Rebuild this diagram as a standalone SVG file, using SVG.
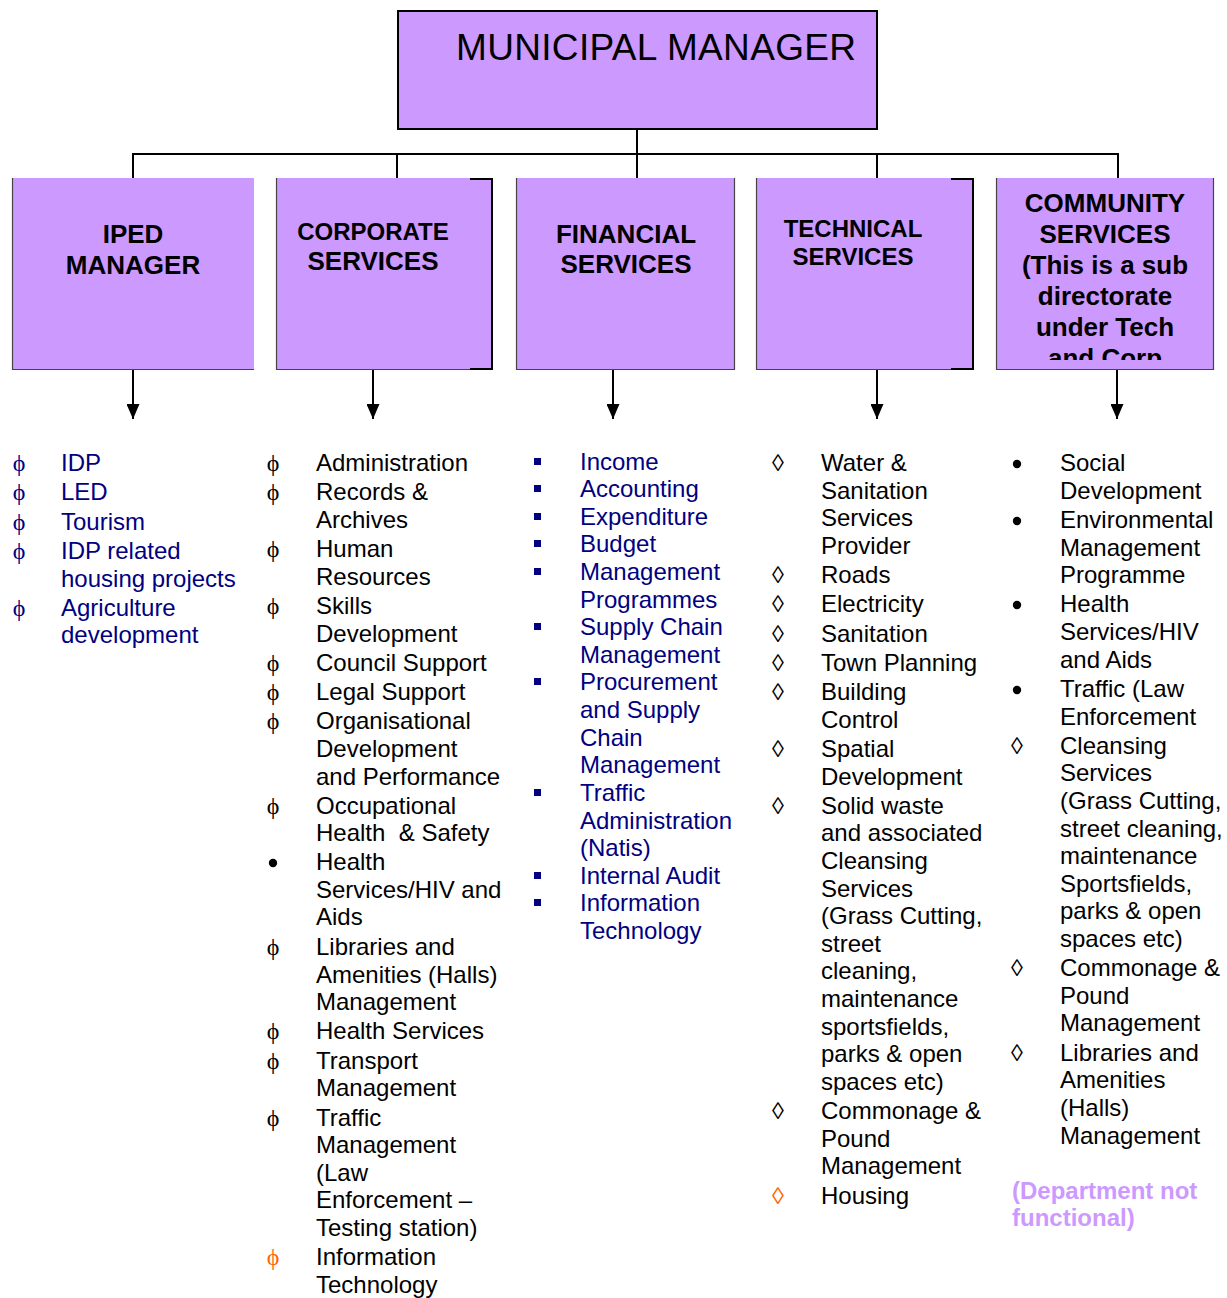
<svg xmlns="http://www.w3.org/2000/svg" width="1227" height="1298" viewBox="0 0 1227 1298">
<style>
.box{fill:#CC99FF}
.edge{fill:none;stroke:#444;stroke-width:1.2}
.brk{fill:none;stroke:#000;stroke-width:2}
.conn{fill:none;stroke:#000;stroke-width:2}
.h{font-family:"Liberation Sans",Arial,sans-serif;font-weight:bold;font-size:26px;fill:#000;text-anchor:middle}
.t{font-family:"Liberation Sans",Arial,sans-serif;font-size:24px}
.navy{fill:#000080}
.blk{fill:#000}
.org{fill:#FF6600}
.phi{font-family:"Liberation Serif","DejaVu Serif",serif;font-size:24px;text-anchor:middle}
.bul{font-family:"Liberation Sans",Arial,sans-serif;font-size:24px;text-anchor:middle}
.dept{font-family:"Liberation Sans",Arial,sans-serif;font-weight:bold;font-size:24px;fill:#CC99FF}
</style>
<defs>
<marker id="ah" markerWidth="15" markerHeight="13" refX="15" refY="6.5" orient="auto" markerUnits="userSpaceOnUse" viewBox="0 0 15 13">
<path d="M0,0 L15,6.5 L0,13 Z" fill="#000"/>
</marker>
<clipPath id="cc"><rect x="996" y="178" width="218" height="182"/></clipPath>
</defs>

<g id="connectors">
<path class="conn" d="M637,130 V178"/>
<path class="conn" d="M133,178 V154 H1118 V178"/>
<path class="conn" d="M397,154 V178"/>
<path class="conn" d="M877,154 V178"/>
<path class="conn" d="M133,370 V419" marker-end="url(#ah)"/>
<path class="conn" d="M373,370 V419" marker-end="url(#ah)"/>
<path class="conn" d="M613,370 V419" marker-end="url(#ah)"/>
<path class="conn" d="M877,370 V419" marker-end="url(#ah)"/>
<path class="conn" d="M1117,370 V419" marker-end="url(#ah)"/>
</g>

<g id="municipal-manager">
<rect x="398" y="11" width="479" height="118" fill="#CC99FF" stroke="#000" stroke-width="2"/>
<text x="456" y="60" textLength="400" style="font-family:'Liberation Sans',Arial,sans-serif;font-size:37px;fill:#000">MUNICIPAL MANAGER</text>
</g>

<g id="iped-manager">
<rect class="box" x="12" y="178" width="242" height="192"/>
<path class="edge" d="M12.5,178 V369.5 H254"/>
<text class="h" x="133" y="243">IPED</text>
<text class="h" x="133" y="274">MANAGER</text>
</g>

<g id="corporate-services">
<rect class="box" x="276" y="178" width="217" height="192"/>
<path class="edge" d="M276.5,178 V369.5 H493"/>
<path class="brk" d="M470,179 H492 V369 H470"/>
<text class="h" x="373" y="240" style="font-size:24px">CORPORATE</text>
<text class="h" x="373" y="270">SERVICES</text>
</g>

<g id="financial-services">
<rect class="box" x="516" y="178" width="219" height="192"/>
<path class="edge" d="M516.5,178 V369.5 H734.5 V178"/>
<text class="h" x="626" y="243">FINANCIAL</text>
<text class="h" x="626" y="273">SERVICES</text>
</g>

<g id="technical-services">
<rect class="box" x="756" y="178" width="218" height="192"/>
<path class="edge" d="M756.5,178 V369.5 H974"/>
<path class="brk" d="M951,179 H973 V369 H951"/>
<text class="h" x="853" y="237" style="font-size:24px">TECHNICAL</text>
<text class="h" x="853" y="265" style="font-size:24px">SERVICES</text>
</g>

<g id="community-services">
<rect class="box" x="996" y="178" width="218" height="192"/>
<path class="edge" d="M996.5,178 V369.5 H1213.5 V178"/>
<g clip-path="url(#cc)">
<text class="h" x="1105" y="212">COMMUNITY</text>
<text class="h" x="1105" y="243">SERVICES</text>
<text class="h" x="1105" y="274">(This is a sub</text>
<text class="h" x="1105" y="305">directorate</text>
<text class="h" x="1105" y="336">under Tech</text>
<text class="h" x="1105" y="367">and Corp</text>
</g>
</g>

<g id="iped-list">
<text class="phi navy" x="19" y="471">ϕ</text><text class="t navy" x="61" y="471">IDP</text>
<text class="phi navy" x="19" y="500">ϕ</text><text class="t navy" x="61" y="500">LED</text>
<text class="phi navy" x="19" y="530">ϕ</text><text class="t navy" x="61" y="530">Tourism</text>
<text class="phi navy" x="19" y="559">ϕ</text><text class="t navy" x="61" y="559">IDP related</text>
<text class="t navy" x="61" y="587">housing projects</text>
<text class="phi navy" x="19" y="616">ϕ</text><text class="t navy" x="61" y="616">Agriculture</text>
<text class="t navy" x="61" y="643">development</text>
</g>

<g id="corporate-list">
<text class="phi blk" x="273" y="471">ϕ</text><text class="t blk" x="316" y="471">Administration</text>
<text class="phi blk" x="273" y="500">ϕ</text><text class="t blk" x="316" y="500">Records &amp;</text>
<text class="t blk" x="316" y="528">Archives</text>
<text class="phi blk" x="273" y="557">ϕ</text><text class="t blk" x="316" y="557">Human</text>
<text class="t blk" x="316" y="585">Resources</text>
<text class="phi blk" x="273" y="614">ϕ</text><text class="t blk" x="316" y="614">Skills</text>
<text class="t blk" x="316" y="642">Development</text>
<text class="phi blk" x="273" y="671">ϕ</text><text class="t blk" x="316" y="671">Council Support</text>
<text class="phi blk" x="273" y="700">ϕ</text><text class="t blk" x="316" y="700">Legal Support</text>
<text class="phi blk" x="273" y="729">ϕ</text><text class="t blk" x="316" y="729">Organisational</text>
<text class="t blk" x="316" y="757">Development</text>
<text class="t blk" x="316" y="785">and Performance</text>
<text class="phi blk" x="273" y="814">ϕ</text><text class="t blk" x="316" y="814">Occupational</text>
<text class="t blk" x="316" y="841" xml:space="preserve">Health  &amp; Safety</text>
<circle cx="273" cy="863" r="4.2" fill="#000"/><text class="t blk" x="316" y="870">Health</text>
<text class="t blk" x="316" y="898">Services/HIV and</text>
<text class="t blk" x="316" y="925">Aids</text>
<text class="phi blk" x="273" y="955">ϕ</text><text class="t blk" x="316" y="955">Libraries and</text>
<text class="t blk" x="316" y="983">Amenities (Halls)</text>
<text class="t blk" x="316" y="1010">Management</text>
<text class="phi blk" x="273" y="1039">ϕ</text><text class="t blk" x="316" y="1039">Health Services</text>
<text class="phi blk" x="273" y="1069">ϕ</text><text class="t blk" x="316" y="1069">Transport</text>
<text class="t blk" x="316" y="1096">Management</text>
<text class="phi blk" x="273" y="1126">ϕ</text><text class="t blk" x="316" y="1126">Traffic</text>
<text class="t blk" x="316" y="1153">Management</text>
<text class="t blk" x="316" y="1181">(Law</text>
<text class="t blk" x="316" y="1208">Enforcement –</text>
<text class="t blk" x="316" y="1236">Testing station)</text>
<text class="phi org" x="273" y="1265">ϕ</text><text class="t blk" x="316" y="1265">Information</text>
<text class="t blk" x="316" y="1293">Technology</text>
</g>

<g id="financial-list">
<rect class="navy" x="534" y="458" width="7" height="7"/><text class="t navy" x="580" y="470">Income</text>
<rect class="navy" x="534" y="485" width="7" height="7"/><text class="t navy" x="580" y="497">Accounting</text>
<rect class="navy" x="534" y="513" width="7" height="7"/><text class="t navy" x="580" y="525">Expenditure</text>
<rect class="navy" x="534" y="540" width="7" height="7"/><text class="t navy" x="580" y="552">Budget</text>
<rect class="navy" x="534" y="568" width="7" height="7"/><text class="t navy" x="580" y="580">Management</text>
<text class="t navy" x="580" y="608">Programmes</text>
<rect class="navy" x="534" y="623" width="7" height="7"/><text class="t navy" x="580" y="635">Supply Chain</text>
<text class="t navy" x="580" y="663">Management</text>
<rect class="navy" x="534" y="678" width="7" height="7"/><text class="t navy" x="580" y="690">Procurement</text>
<text class="t navy" x="580" y="718">and Supply</text>
<text class="t navy" x="580" y="746">Chain</text>
<text class="t navy" x="580" y="773">Management</text>
<rect class="navy" x="534" y="789" width="7" height="7"/><text class="t navy" x="580" y="801">Traffic</text>
<text class="t navy" x="580" y="829">Administration</text>
<text class="t navy" x="580" y="856">(Natis)</text>
<rect class="navy" x="534" y="872" width="7" height="7"/><text class="t navy" x="580" y="884">Internal Audit</text>
<rect class="navy" x="534" y="899" width="7" height="7"/><text class="t navy" x="580" y="911">Information</text>
<text class="t navy" x="580" y="939">Technology</text>
</g>

<g id="technical-list">
<text class="bul blk" x="778" y="471">◊</text><text class="t blk" x="821" y="471">Water &amp;</text>
<text class="t blk" x="821" y="499">Sanitation</text>
<text class="t blk" x="821" y="526">Services</text>
<text class="t blk" x="821" y="554">Provider</text>
<text class="bul blk" x="778" y="583">◊</text><text class="t blk" x="821" y="583">Roads</text>
<text class="bul blk" x="778" y="612">◊</text><text class="t blk" x="821" y="612">Electricity</text>
<text class="bul blk" x="778" y="642">◊</text><text class="t blk" x="821" y="642">Sanitation</text>
<text class="bul blk" x="778" y="671">◊</text><text class="t blk" x="821" y="671">Town Planning</text>
<text class="bul blk" x="778" y="700">◊</text><text class="t blk" x="821" y="700">Building</text>
<text class="t blk" x="821" y="728">Control</text>
<text class="bul blk" x="778" y="757">◊</text><text class="t blk" x="821" y="757">Spatial</text>
<text class="t blk" x="821" y="785">Development</text>
<text class="bul blk" x="778" y="814">◊</text><text class="t blk" x="821" y="814">Solid waste</text>
<text class="t blk" x="821" y="841">and associated</text>
<text class="t blk" x="821" y="869">Cleansing</text>
<text class="t blk" x="821" y="897">Services</text>
<text class="t blk" x="821" y="924">(Grass Cutting,</text>
<text class="t blk" x="821" y="952">street</text>
<text class="t blk" x="821" y="979">cleaning,</text>
<text class="t blk" x="821" y="1007">maintenance</text>
<text class="t blk" x="821" y="1035">sportsfields,</text>
<text class="t blk" x="821" y="1062">parks &amp; open</text>
<text class="t blk" x="821" y="1090">spaces etc)</text>
<text class="bul blk" x="778" y="1119">◊</text><text class="t blk" x="821" y="1119">Commonage &amp;</text>
<text class="t blk" x="821" y="1147">Pound</text>
<text class="t blk" x="821" y="1174">Management</text>
<text class="bul org" x="778" y="1204">◊</text><text class="t blk" x="821" y="1204">Housing</text>
</g>

<g id="community-list">
<circle cx="1017" cy="464" r="4.2" fill="#000"/><text class="t blk" x="1060" y="471">Social</text>
<text class="t blk" x="1060" y="499">Development</text>
<circle cx="1017" cy="521" r="4.2" fill="#000"/><text class="t blk" x="1060" y="528">Environmental</text>
<text class="t blk" x="1060" y="556">Management</text>
<text class="t blk" x="1060" y="583">Programme</text>
<circle cx="1017" cy="605" r="4.2" fill="#000"/><text class="t blk" x="1060" y="612">Health</text>
<text class="t blk" x="1060" y="640">Services/HIV</text>
<text class="t blk" x="1060" y="668">and Aids</text>
<circle cx="1017" cy="690" r="4.2" fill="#000"/><text class="t blk" x="1060" y="697">Traffic (Law</text>
<text class="t blk" x="1060" y="725">Enforcement</text>
<text class="bul blk" x="1017" y="754">◊</text><text class="t blk" x="1060" y="754">Cleansing</text>
<text class="t blk" x="1060" y="781">Services</text>
<text class="t blk" x="1060" y="809">(Grass Cutting,</text>
<text class="t blk" x="1060" y="837">street cleaning,</text>
<text class="t blk" x="1060" y="864">maintenance</text>
<text class="t blk" x="1060" y="892">Sportsfields,</text>
<text class="t blk" x="1060" y="919">parks &amp; open</text>
<text class="t blk" x="1060" y="947">spaces etc)</text>
<text class="bul blk" x="1017" y="976">◊</text><text class="t blk" x="1060" y="976">Commonage &amp;</text>
<text class="t blk" x="1060" y="1004">Pound</text>
<text class="t blk" x="1060" y="1031">Management</text>
<text class="bul blk" x="1017" y="1061">◊</text><text class="t blk" x="1060" y="1061">Libraries and</text>
<text class="t blk" x="1060" y="1088">Amenities</text>
<text class="t blk" x="1060" y="1116">(Halls)</text>
<text class="t blk" x="1060" y="1144">Management</text>
<text class="dept" x="1012" y="1199">(Department not</text>
<text class="dept" x="1012" y="1226">functional)</text>
</g>
</svg>
